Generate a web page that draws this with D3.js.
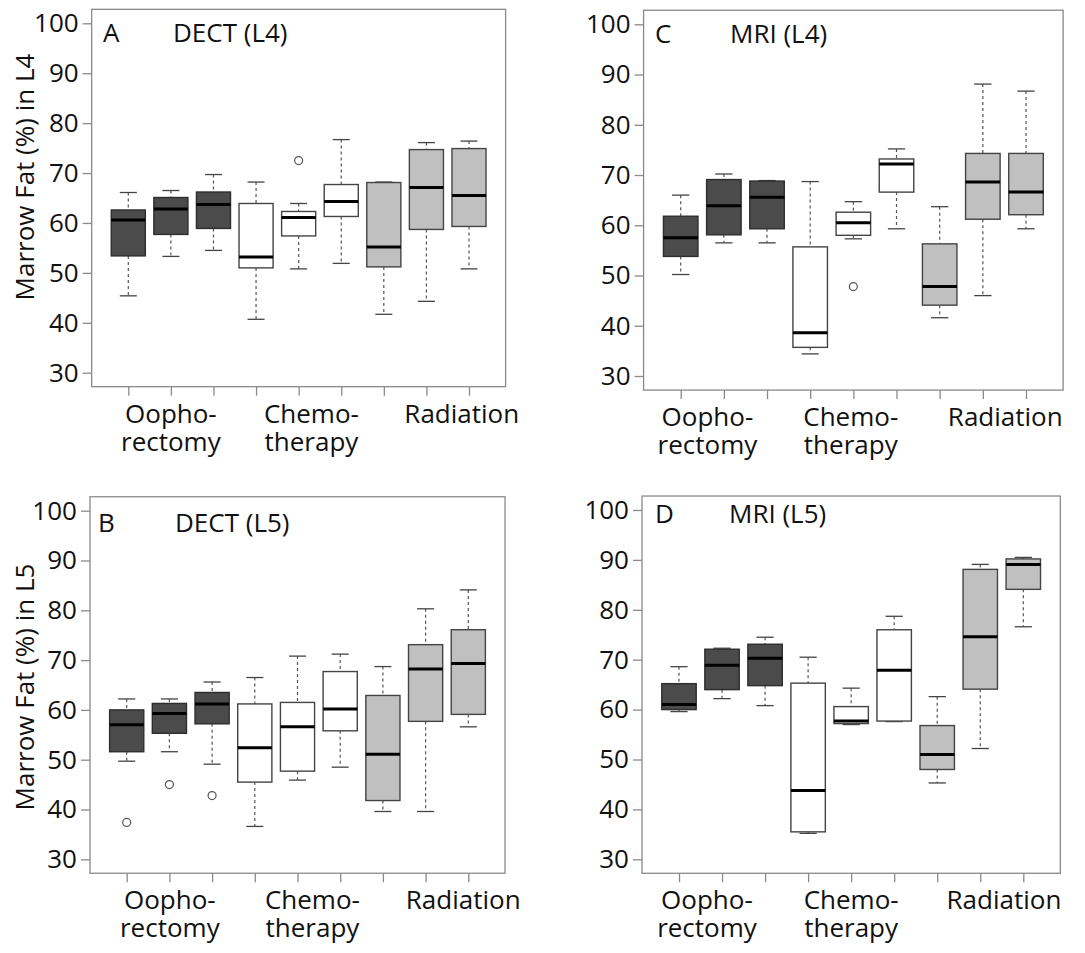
<!DOCTYPE html>
<html>
<head>
<meta charset="utf-8">
<script src="https://cdn.jsdelivr.net/npm/d3@7"></script>
<style>
  html, body { margin: 0; padding: 0; background: #fff; }
  svg { display: block; }
  text { font-family: "Open Sans", "Noto Sans", sans-serif; fill: #111; }
</style>
</head>
<body>
<svg id="chart" width="1085" height="953"></svg>
<script>
// ---- data: each box is [lower whisker, Q1, median, Q3, upper whisker]
const boxIndex = [1, 2, 3, 4, 5, 6, 7, 8, 9];
const boxGroup = ["oop", "oop", "oop", "chemo", "chemo", "chemo", "rad", "rad", "rad"];
const groupLabels = [["Oopho-", "rectomy"], ["Chemo-", "therapy"], ["Radiation"]];
const yTicks = [30, 40, 50, 60, 70, 80, 90, 100];

const dectL4 = [
  [45.4, 53.4, 60.6, 62.6, 66.1],
  [53.3, 57.7, 62.8, 65.1, 66.5],
  [54.5, 58.9, 63.7, 66.2, 69.7],
  [40.7, 51.0, 53.2, 63.9, 68.2],
  [50.8, 57.4, 61.1, 62.3, 63.9],
  [51.9, 61.3, 64.3, 67.7, 76.7],
  [41.7, 51.2, 55.2, 68.1, 68.2],
  [44.3, 58.7, 67.1, 74.7, 76.1],
  [50.8, 59.3, 65.5, 74.9, 76.4]
];
const dectL4Out = [[], [], [], [], [72.5], [], [], [], []];

const dectL5 = [
  [49.7, 51.6, 57.0, 60.0, 62.2],
  [51.6, 55.3, 59.3, 61.3, 62.2],
  [49.1, 57.2, 61.2, 63.5, 65.6],
  [36.6, 45.5, 52.4, 61.2, 66.5],
  [45.9, 47.7, 56.6, 61.5, 70.8],
  [48.5, 55.8, 60.2, 67.7, 71.2],
  [39.6, 41.8, 51.1, 62.9, 68.7],
  [39.6, 57.7, 68.2, 73.1, 80.3],
  [56.6, 59.1, 69.3, 76.1, 84.1]
];
const dectL5Out = [[37.4], [45.0], [42.8], [], [], [], [], [], []];

const mriL4 = [
  [50.2, 53.8, 57.5, 61.8, 66.0],
  [56.5, 58.1, 63.9, 69.1, 70.2],
  [56.5, 59.3, 65.6, 68.8, 68.9],
  [34.4, 35.7, 38.6, 55.7, 68.7],
  [57.3, 58.0, 60.5, 62.6, 64.7],
  [59.3, 66.6, 72.2, 73.2, 75.2],
  [41.6, 44.1, 47.8, 56.3, 63.7],
  [46.0, 61.2, 68.6, 74.3, 88.1],
  [59.3, 62.1, 66.6, 74.3, 86.7]
];
const mriL4Out = [[], [], [], [], [47.8], [], [], [], []];

const mriL5 = [
  [59.6, 60.0, 61.0, 65.2, 68.6],
  [62.2, 64.0, 68.9, 72.1, 72.3],
  [60.8, 64.8, 70.3, 73.1, 74.5],
  [35.2, 35.5, 43.8, 65.3, 70.5],
  [57.0, 57.2, 57.7, 60.6, 64.3],
  [57.6, 57.7, 67.9, 76.0, 78.7],
  [45.3, 48.0, 51.0, 56.8, 62.6],
  [52.2, 64.1, 74.6, 88.1, 89.1],
  [76.6, 84.1, 89.1, 90.2, 90.5]
];
const mriL5Out = [[], [], [], [], [], [], [], [], []];

const fills = { oop: "#4b4b4b", chemo: "#ffffff", rad: "#c0c0c0" };

// ---- panel layout (pixel frame of each plot region)
const panels = [
  { id: "A", title: "DECT (L4)", data: dectL4, out: dectL4Out, ylab: "Marrow Fat (%) in L4",
    y100: 23.3, y30: 372.7, x1: 128.3, x9: 469.0, labX: [2.0, 5.3, 8.83],
    tagX: 103, titleX: 173, tagY: 42, ylabX: 34, ylabY: 177 },
  { id: "C", title: "MRI (L4)", data: mriL4, out: mriL4Out, ylab: null,
    y100: 24.3, y30: 376.0, x1: 680.7, x9: 1026.0, labX: [1.62, 4.94, 8.52],
    tagX: 655, titleX: 730, tagY: 42.5 },
  { id: "B", title: "DECT (L5)", data: dectL5, out: dectL5Out, ylab: "Marrow Fat (%) in L5",
    y100: 510.7, y30: 859.3, x1: 126.7, x9: 468.3, labX: [2.01, 5.35, 8.88],
    tagX: 98, titleX: 175, tagY: 531.5, ylabX: 34, ylabY: 687 },
  { id: "D", title: "MRI (L5)", data: mriL5, out: mriL5Out, ylab: null,
    y100: 510.0, y30: 859.3, x1: 679.0, x9: 1023.3, labX: [1.65, 5.0, 8.55],
    tagX: 655, titleX: 729, tagY: 523 }
];

const svg = d3.select("#chart");

panels.forEach(p => {
  // R-style ranges: x in [0.5, 9.5] +4%, y in [30,100] +4%
  const xs = d3.scaleLinear().domain([1, 9]).range([p.x1, p.x9]);
  const ys = d3.scaleLinear().domain([30, 100]).range([p.y30, p.y100]);
  const xDom = [0.5 - 0.36, 9.5 + 0.36];
  const yDom = [30 - 2.8, 100 + 2.8];
  const L = xs(xDom[0]), R = xs(xDom[1]), T = ys(yDom[1]), B = ys(yDom[0]);
  const g = svg.append("g");

  // frame
  g.append("rect").attr("x", L).attr("y", T).attr("width", R - L).attr("height", B - T)
    .attr("fill", "none").attr("stroke", "#8a8a8a").attr("stroke-width", 1.3);

  // y axis
  const yAxis = d3.axisLeft(ys).tickValues(yTicks).tickSize(9).tickPadding(4);
  const ya = g.append("g").attr("transform", `translate(${L},0)`).call(yAxis);
  ya.select(".domain").remove();
  ya.selectAll(".tick line").attr("stroke", "#8a8a8a").attr("stroke-width", 1.3);
  ya.selectAll(".tick text").attr("font-size", 26).attr("fill", "#111")
    .attr("font-family", '"Open Sans", sans-serif');

  // x axis ticks (no labels)
  const xAxis = d3.axisBottom(xs).tickValues(boxIndex).tickSize(9).tickFormat("");
  const xa = g.append("g").attr("transform", `translate(0,${B})`).call(xAxis);
  xa.select(".domain").remove();
  xa.selectAll(".tick line").attr("stroke", "#8a8a8a").attr("stroke-width", 1.3);

  const bw = (xs(1.4) - xs(1)) ; // half box width (boxwex 0.8)
  const sw = bw / 2;              // half staple width

  p.data.forEach((d, i) => {
    const cx = xs(boxIndex[i]);
    const grp = boxGroup[i];
    const [lo, q1, md, q3, hi] = d;
    const bg = g.append("g");
    // whiskers (dashed)
    bg.append("line").attr("x1", cx).attr("x2", cx).attr("y1", ys(hi)).attr("y2", ys(q3))
      .attr("stroke", "#555").attr("stroke-width", 1.2).attr("stroke-dasharray", "3,3");
    bg.append("line").attr("x1", cx).attr("x2", cx).attr("y1", ys(q1)).attr("y2", ys(lo))
      .attr("stroke", "#555").attr("stroke-width", 1.2).attr("stroke-dasharray", "3,3");
    // staples
    [lo, hi].forEach(v => {
      bg.append("line").attr("x1", cx - sw).attr("x2", cx + sw).attr("y1", ys(v)).attr("y2", ys(v))
        .attr("stroke", "#444").attr("stroke-width", 1.3);
    });
    // box
    bg.append("rect").attr("x", cx - bw).attr("y", ys(q3)).attr("width", 2 * bw)
      .attr("height", ys(q1) - ys(q3))
      .attr("fill", fills[grp]).attr("stroke", grp === "oop" ? "#2e2e2e" : "#444").attr("stroke-width", 1.4);
    // median
    bg.append("line").attr("x1", cx - bw).attr("x2", cx + bw).attr("y1", ys(md)).attr("y2", ys(md))
      .attr("stroke", "#000").attr("stroke-width", 3);
    // outliers
    p.out[i].forEach(v => {
      bg.append("circle").attr("cx", cx).attr("cy", ys(v)).attr("r", 4)
        .attr("fill", "none").attr("stroke", "#555").attr("stroke-width", 1.2);
    });
  });

  // group labels below the axis (one text element, wrapped lines as tspans)
  groupLabels.forEach((lines, k) => {
    const t = g.append("text").attr("x", xs(p.labX[k])).attr("y", B + 36)
      .attr("text-anchor", "middle").attr("font-size", 26);
    lines.forEach((s, j) => {
      t.append("tspan").attr("x", xs(p.labX[k])).attr("dy", j === 0 ? 0 : 28).text(s);
    });
  });

  // panel tag and title
  g.append("text").attr("x", p.tagX).attr("y", p.tagY).attr("font-size", 26).text(p.id);
  g.append("text").attr("x", p.titleX).attr("y", p.tagY).attr("font-size", 26).text(p.title);

  // y axis label
  if (p.ylab) {
    g.append("text").attr("transform", `translate(${p.ylabX},${p.ylabY}) rotate(-90)`)
      .attr("text-anchor", "middle").attr("font-size", 26).text(p.ylab);
  }
});
</script>
</body>
</html>
